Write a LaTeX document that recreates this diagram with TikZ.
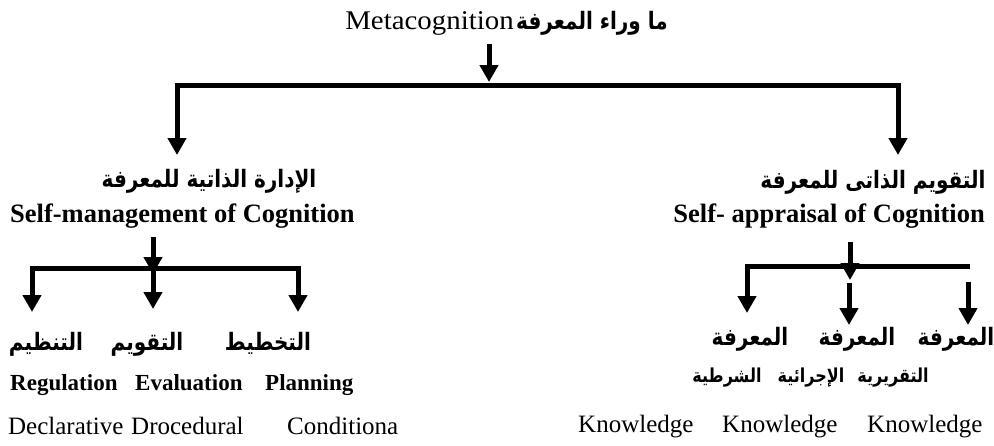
\documentclass[tikz,border=0pt]{standalone}
\usepackage{fontspec}
\setmainfont{Liberation Serif}
\newfontfamily\arabicfont[Script=Arabic]{DejaVu Sans}
\TeXXeTstate=1
\usetikzlibrary{arrows.meta}
\tikzset{
  ln/.style={line width=5pt, line join=miter},
  arr/.style={ln, -{Triangle[length=17pt,width=18pt]}},
  dbl/.style={ln, {Triangle[length=17pt,width=18pt]}-{Triangle[length=17pt,width=18pt]}},
  en/.style={font=\fontsize{25}{25}\selectfont, inner sep=0pt},
  ent/.style={font=\fontsize{27}{27}\selectfont, inner sep=0pt, xscale=1.07, transform shape},
  enb/.style={font=\fontsize{26.5}{26.5}\selectfont\bfseries, inner sep=0pt},
  ens/.style={font=\fontsize{23}{23}\selectfont\bfseries, inner sep=0pt},
  ar/.style={font=\fontsize{20}{20}\selectfont\arabicfont\bfseries, inner sep=0pt, yscale=1.2, transform shape},
  ars/.style={font=\fontsize{16}{16}\selectfont\arabicfont\bfseries, inner sep=0pt, yscale=1.2, transform shape},
}
\begin{document}
\begin{tikzpicture}[x=1pt,y=-1pt]
\useasboundingbox (0,0) rectangle (994,445);
% title
\node[ent, anchor=base east] (ten) at (514,29) {Metacognition};
\node[ar, anchor=base west] (tar) at (516,29) {\beginR ما وراء المعرفة\endR};
\coordinate (t0) at (489,44);
\coordinate (t1) at (489,82);
\draw[arr] (t0) -- (t1);
% main bracket
\coordinate (ltip) at (177,155);
\coordinate (lc) at (177,85);
\coordinate (rc) at (898,85);
\coordinate (rtip) at (898,155);
\draw[dbl] (ltip) -- (lc) -- (rc) -- (rtip);
% left branch
\node[ar, anchor=base] (lar) at (209,187) {\beginR الإدارة الذاتية للمعرفة\endR};
\node[enb, anchor=base west] (len) at (10,222) {Self-management of Cognition};
\coordinate (ls0) at (153,237);
\coordinate (ls1) at (153,274);
\draw[arr] (ls0) -- (ls1);
\coordinate (la) at (32,312);
\coordinate (lac) at (32,268);
\coordinate (lcc) at (298,268);
\coordinate (lc3) at (298,312);
\coordinate (lm0) at (153,268);
\coordinate (lm1) at (153,309);
\draw[dbl] (la) -- (lac) -- (lcc) -- (lc3);
\draw[arr] (lm0) -- (lm1);
\node[ar, anchor=base] (a1) at (46,350) {\beginR التنظيم\endR};
\node[ar, anchor=base] (a2) at (147,350) {\beginR التقويم\endR};
\node[ar, anchor=base] (a3) at (268,350) {\beginR التخطيط\endR};
\node[ens, anchor=base west] (e1) at (10,390) {Regulation};
\node[ens, anchor=base west] (e2) at (135,390) {Evaluation};
\node[ens, anchor=base west] (e3) at (265,390) {Planning};
\node[en, anchor=base west] (d1) at (8,434) {Declarative};
\node[en, anchor=base west] (d2) at (131,434) {Drocedural};
\node[en, anchor=base west] (d3) at (287,434) {Conditiona};
% right branch
\node[ar, anchor=base] (rar) at (873,188) {\beginR التقويم الذاتى للمعرفة\endR};
\node[enb, anchor=base east] (ren) at (985,222) {Self- appraisal of Cognition};
\coordinate (rs0) at (850,242);
\coordinate (rs1) at (850,280);
\draw[arr] (rs0) -- (rs1);
\coordinate (rr0) at (970,266);
\coordinate (rlc) at (747,266);
\coordinate (rl1) at (747,313);
\draw[arr] (rr0) -- (rlc) -- (rl1);
\coordinate (rm0) at (849,283);
\coordinate (rm1) at (849,325);
\draw[arr] (rm0) -- (rm1);
\coordinate (rx0) at (968,282);
\coordinate (rx1) at (968,325);
\draw[arr] (rx0) -- (rx1);
\node[ar, anchor=base] (m1) at (750,345) {\beginR المعرفة\endR};
\node[ar, anchor=base] (m2) at (857,345) {\beginR المعرفة\endR};
\node[ar, anchor=base] (m3) at (956,345) {\beginR المعرفة\endR};
\node[ars, anchor=base] (s1) at (727,382) {\beginR الشرطية\endR};
\node[ars, anchor=base] (s2) at (811,382) {\beginR الإجرائية\endR};
\node[ars, anchor=base] (s3) at (893,382) {\beginR التقريرية\endR};
\node[en, anchor=base west] (k1) at (578,432) {Knowledge};
\node[en, anchor=base west] (k2) at (722,432) {Knowledge};
\node[en, anchor=base west] (k3) at (867,432) {Knowledge};
\end{tikzpicture}
\end{document}
